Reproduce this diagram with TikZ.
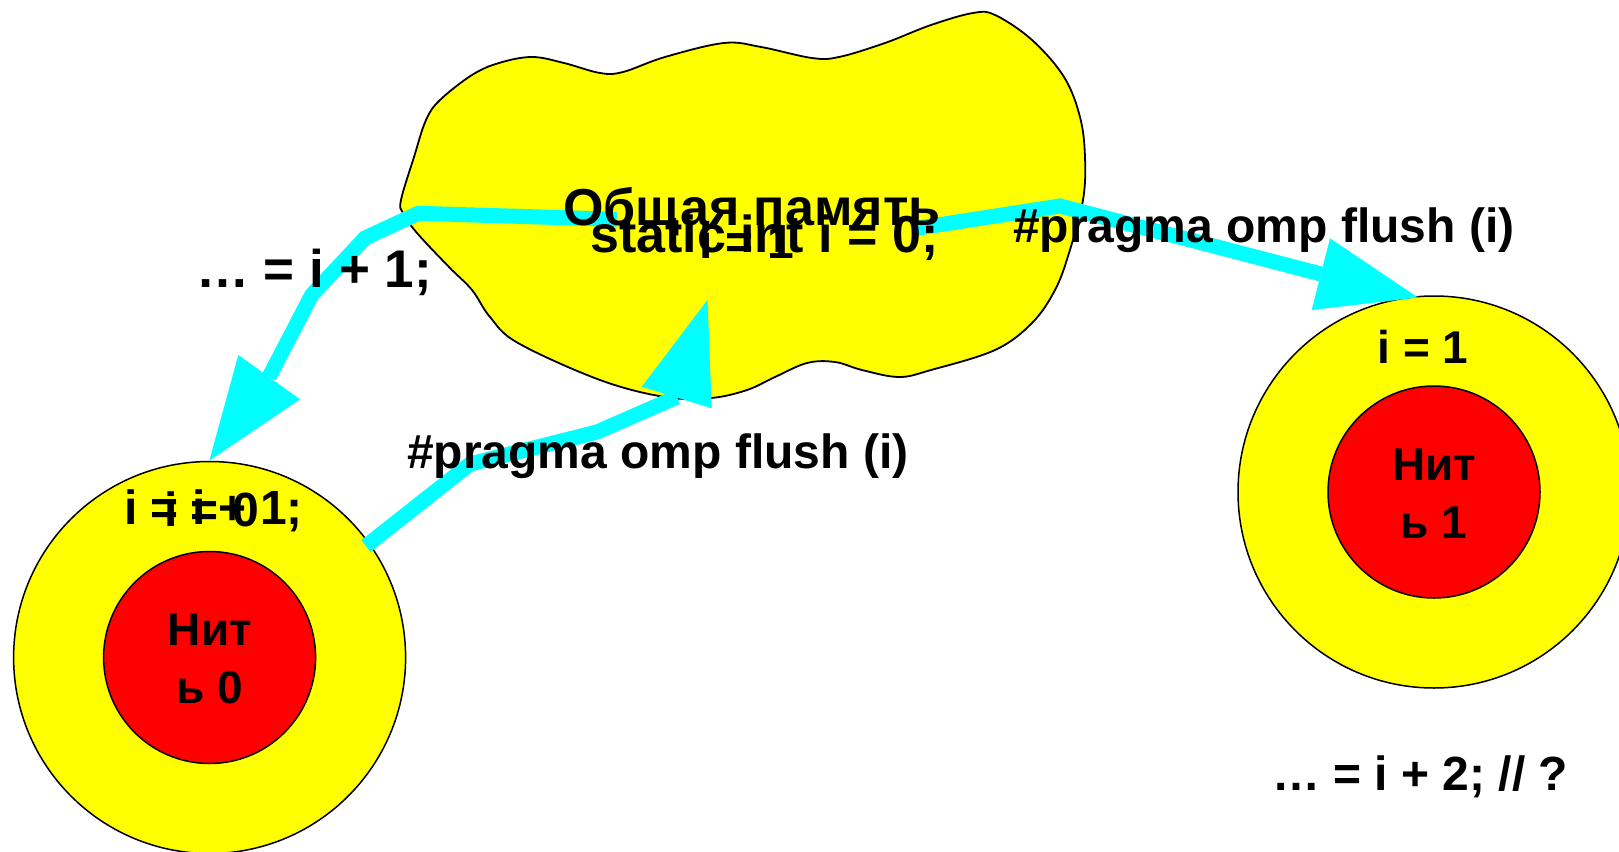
\documentclass[tikz,border=0pt]{standalone}
\usepackage{fontspec}
\setmainfont{Liberation Sans}
\definecolor{yel}{HTML}{FFFF00}
\definecolor{redc}{HTML}{FF0000}
\definecolor{cyanc}{HTML}{00FFFF}
\begin{document}
\begin{tikzpicture}[x=1pt,y=-1pt,
  tbig/.style={inner sep=0pt, font=\bfseries\fontsize{52}{60}\selectfont},
  tmid/.style={inner sep=0pt, font=\bfseries\fontsize{48}{56}\selectfont},
  tsml/.style={inner sep=0pt, font=\bfseries\fontsize{46}{56}\selectfont},
  outerc/.style={circle, fill=yel, draw=black, line width=1.5pt, minimum size=392pt, inner sep=0pt},
  innerc/.style={circle, fill=redc, draw=black, line width=1.5pt, minimum size=212pt, inner sep=0pt},
  flow/.style={draw=cyanc, line width=15pt, line join=miter, miter limit=4},
  head/.style={fill=cyanc}]
\useasboundingbox (0,0) rectangle (1619,851);
\begin{scope}
\clip (0,0) rectangle (1619,851);
% shared memory cloud
\draw[fill=yel, line width=1.8pt] plot[smooth cycle, tension=0.6] coordinates {
 (401,200) (414,157) (426,120) (440,100) (472,75) (499,63) (532,57) (564,63)
 (600,73) (623,72) (665,57) (724,43) (761,47) (812,58) (839,57) (885,43)
 (931,25) (973,13) (995,15) (1032,40) (1064,77) (1080,117) (1085,157) (1083,200)
 (1069,253) (1055,290) (1032,323) (995,350) (931,370) (899,377) (862,370) (835,362)
 (807,363) (775,377) (747,390) (711,398) (665,397) (600,380) (518,343) (490,317)
 (472,290) (449,267) (417,233) (403,213)};
% threads
\node[outerc] (t0) at (209.6,657.5) {};
\node[innerc] (t0in) at (t0.center) {};
\node[outerc] (t1) at (1434,492) {};
\node[innerc] (t1in) at (t1.center) {};
\end{scope}
% connector points
\coordinate (a1s) at (616.7,219.3);
\coordinate (a1b) at (418.3,213.3);
\coordinate (a1c) at (365,238);
\coordinate (a1d) at (311.7,295);
\coordinate (a1e) at (269,377);
\coordinate (a2s) at (366,546);
\coordinate (a2b) at (470,464);
\coordinate (a2c) at (597,432);
\coordinate (a2e) at (677,397);
\coordinate (a3s) at (912,229);
\coordinate (a3b) at (1060,206);
\coordinate (a3e) at (1321,274);
% arrows
\draw[flow] (a1s) -- (a1b) -- (a1c) -- (a1d) -- (a1e);
\fill[head] (238.3,355) -- (209.3,460.7) -- (300,399.3) -- cycle;
\draw[flow] (a2s) -- (a2b) -- (a2c) -- (a2e);
\fill[head] (641.7,386.7) -- (707.5,300) -- (711.7,408.3) -- cycle;
\draw[flow] (a3s) -- (a3b) -- (a3e);
\fill[head] (1330,238.3) -- (1418,297.5) -- (1311.7,310) -- cycle;
% texts
\node[tbig, anchor=base west] (mem) at (563,225) {Общая память};
\node[tbig, anchor=base west] (decl) at (590,252) {static int i = 0;};
\node[tmid, anchor=base west] (cl1) at (699,258) {i = 1};
\node[tbig, anchor=base west, font=\bfseries\fontsize{53}{60}\selectfont] (use1) at (196,287) {… = i + 1;};
\node[tmid, anchor=base west] (fl1) at (1013,242) {\#pragma omp flush (i)};
\node[tmid, anchor=base west] (fl0) at (407,468) {\#pragma omp flush (i)};
\node[tmid, anchor=base west] (inc) at (124,524) {i = i + 1;};
\node[tmid, anchor=base west] (z0) at (164,526) {i = 0};
\node[tsml, anchor=base] (n0a) at (210,645.5) {Нит};
\node[tsml, anchor=base] (n0b) at (210,703.5) {ь 0};
\node[tsml, anchor=base] (n1a) at (1434,480) {Нит};
\node[tsml, anchor=base] (n1b) at (1434,538) {ь 1};
\node[tsml, anchor=base] (v1) at (1423,363) {i = 1};
\node[tmid, anchor=base west] (use2) at (1272,790) {… = i + 2; // ?};
\end{tikzpicture}
\end{document}
